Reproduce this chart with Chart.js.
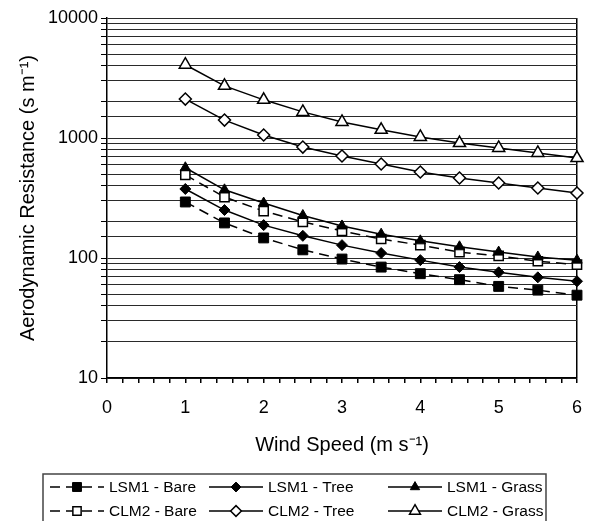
<!DOCTYPE html>
<html>
<head>
<meta charset="utf-8">
<script src="https://cdn.jsdelivr.net/npm/chart.js@4/dist/chart.umd.min.js"></script>
<style>
  html, body { margin: 0; padding: 0; background: #fff; }
  #wrap { width: 596px; height: 521px; position: relative; }
</style>
</head>
<body>
<div id="wrap"><canvas id="resChart"></canvas></div>
<script>
// ── Data ─────────────────────────────────────────────────────────
var windSpeed = [1, 1.5, 2, 2.5, 3, 3.5, 4, 4.5, 5, 5.5, 6];

var lsm1Bare  = [293, 196, 147, 117, 98, 84, 74, 66, 58, 54, 49];
var lsm1Tree  = [376, 251, 188, 153, 128, 110, 96, 84, 76, 69, 64];
var lsm1Grass = [565, 370, 287, 226, 185, 158, 139, 124, 112, 102, 96];
var clm2Bare  = [492, 322, 246, 200, 168, 144, 128, 112, 104, 94, 88];
var clm2Tree  = [2110, 1410, 1060, 840, 708, 607, 521, 464, 422, 383, 348];
var clm2Grass = [4080, 2720, 2080, 1650, 1360, 1170, 1020, 908, 826, 750, 681];

var seriesLabels = ['LSM1 - Bare', 'LSM1 - Tree', 'LSM1 - Grass',
                    'CLM2 - Bare', 'CLM2 - Tree', 'CLM2 - Grass'];
var yLabelTicks = [10, 100, 1000, 10000];
var xLabelTicks = [0, 1, 2, 3, 4, 5, 6];

(function(){
  var canvas = document.getElementById('resChart');
  if (!canvas || typeof Chart === 'undefined') return;

  var FONT = '"Liberation Sans", Arial, Helvetica, sans-serif';
  var BLACK = '#000';

  function pts(ys) {
    return windSpeed.map(function(x, i){ return {x: x, y: ys[i]}; });
  }

  // style helper: dashed = bare surface, open marker = CLM2
  function series(label, ys, style, radius, open, dashed) {
    return {
      label: label,
      data: pts(ys),
      borderColor: BLACK,
      borderWidth: 1.5,
      borderDash: dashed ? [10, 6] : [],
      pointStyle: style,
      pointRadius: radius,
      pointHoverRadius: radius,
      pointBackgroundColor: open ? '#fff' : BLACK,
      pointBorderColor: BLACK,
      pointBorderWidth: open ? 1.5 : 1,
      fill: false,
      tension: 0,
      clip: false
    };
  }

  var datasets = [
    series(seriesLabels[0], lsm1Bare,  'rect',     7,   false, true),
    series(seriesLabels[1], lsm1Tree,  'rectRot',  5.5, false, false),
    series(seriesLabels[2], lsm1Grass, 'triangle', 6,   false, false),
    series(seriesLabels[3], clm2Bare,  'rect',     6.5, true,  true),
    series(seriesLabels[4], clm2Tree,  'rectRot',  6,   true,  false),
    series(seriesLabels[5], clm2Grass, 'triangle', 7,   true,  false)
  ];

  // Excel-style boxed legend, 3 columns x 2 rows, drawn under the x title.
  // The box runs off the bottom of the picture like in the original.
  var boxLegend = {
    id: 'boxLegend',
    afterDraw: function(chart) {
      var ctx = chart.ctx;
      var area = chart.chartArea;
      var left = area.left - 64, right = area.right - 31;
      var top = area.bottom + 96;
      var rowY = [top + 13, top + 37];
      var colX = [left + 7, left + 166, left + 345];
      var sampleW = 54, textGap = 59;

      ctx.save();
      ctx.strokeStyle = '#444';
      ctx.lineWidth = 1.5;
      ctx.strokeRect(left, top, right - left, 80);

      ctx.font = '15.5px ' + FONT;
      ctx.textBaseline = 'middle';
      ctx.fillStyle = BLACK;

      chart.data.datasets.forEach(function(ds, i){
        var x0 = colX[i % 3], y = rowY[Math.floor(i / 3)];
        ctx.save();
        ctx.strokeStyle = BLACK;
        ctx.lineWidth = 1.5;
        ctx.setLineDash(ds.borderDash.length ? ds.borderDash : []);
        ctx.beginPath();
        ctx.moveTo(x0, y);
        ctx.lineTo(x0 + sampleW, y);
        ctx.stroke();
        ctx.setLineDash([]);
        ctx.fillStyle = ds.pointBackgroundColor;
        ctx.strokeStyle = BLACK;
        ctx.lineWidth = ds.pointBorderWidth;
        Chart.helpers.drawPoint(ctx, {
          pointStyle: ds.pointStyle,
          radius: ds.pointRadius * 0.9,
          rotation: 0,
          borderWidth: ds.pointBorderWidth
        }, x0 + sampleW / 2, y);
        ctx.restore();
        ctx.fillText(ds.label, x0 + textGap, y + 1);
      });
      ctx.restore();
    }
  };

  new Chart(canvas.getContext('2d'), {
    type: 'line',
    data: { datasets: datasets },
    plugins: [boxLegend],
    options: {
      responsive: true,
      maintainAspectRatio: false,
      animation: false,
      events: [],
      layout: { padding: { top: 18, right: 18, bottom: 43, left: 0 } },
      plugins: {
        legend: { display: false },
        tooltip: { enabled: false }
      },
      scales: {
        x: {
          type: 'linear',
          min: 0,
          max: 6,
          afterFit: function(scale){ scale.height = 100; },
          ticks: {
            stepSize: 0.2,
            autoSkip: false,
            maxRotation: 0,
            padding: 14,
            color: BLACK,
            font: { size: 18, family: FONT },
            callback: function(v){
              var r = Math.round(v);
              return (Math.abs(v - r) < 1e-6 && xLabelTicks.indexOf(r) !== -1) ? String(r) : '';
            }
          },
          grid: {
            // only the right-hand frame line at x = 6
            color: function(c){
              return (c.tick && Math.abs(c.tick.value - 6) < 1e-6) ? BLACK : 'rgba(0,0,0,0)';
            },
            lineWidth: 1.5,
            tickColor: BLACK,
            tickLength: 5,
            tickWidth: 1.5
          },
          border: { color: BLACK, width: 1.5 },
          title: {
            display: true,
            text: 'Wind Speed (m s\u207B\u00B9)',
            color: BLACK,
            font: { size: 20, family: FONT },
            padding: { top: 0, bottom: 21 }
          }
        },
        y: {
          type: 'logarithmic',
          min: 10,
          max: 10000,
          afterFit: function(scale){ scale.width = 107; },
          ticks: {
            autoSkip: false,
            padding: 3,
            color: BLACK,
            font: { size: 18, family: FONT },
            callback: function(v){
              return yLabelTicks.indexOf(v) !== -1 ? String(v) : '';
            }
          },
          grid: {
            color: '#2a2a2a',
            lineWidth: 1,
            tickColor: BLACK,
            tickLength: 6
          },
          border: { color: BLACK, width: 1.5 },
          title: {
            display: true,
            text: 'Aerodynamic Resistance (s m\u207B\u00B9)',
            color: BLACK,
            font: { size: 20, family: FONT },
            padding: { top: 16, bottom: 0 }
          }
        }
      }
    }
  });
})();
</script>
</body>
</html>
